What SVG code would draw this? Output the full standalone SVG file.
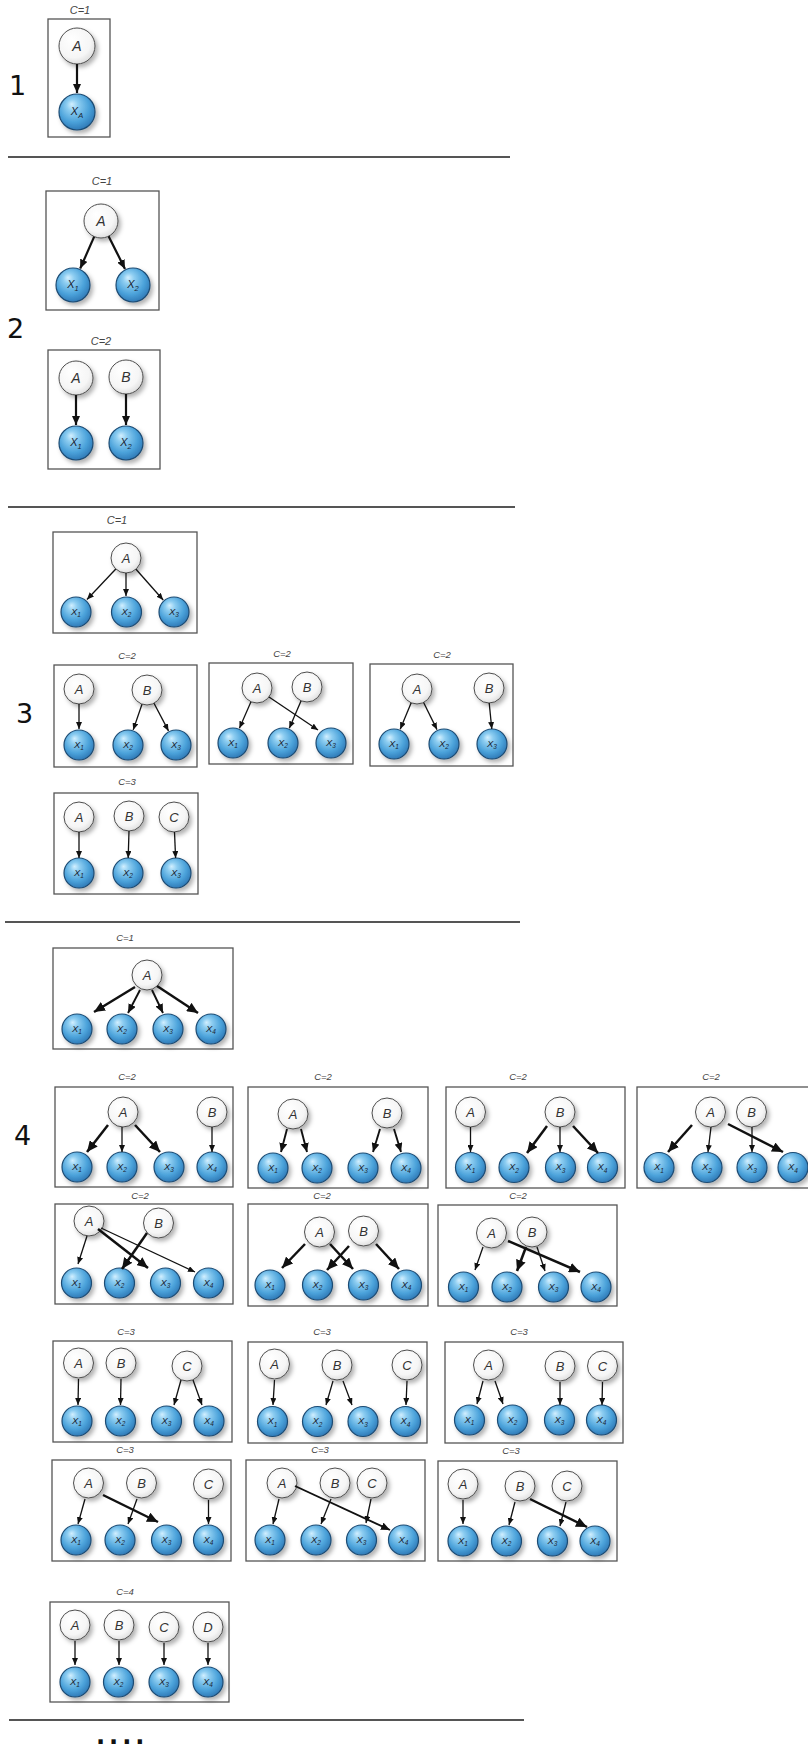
<svg xmlns="http://www.w3.org/2000/svg" width="808" height="1750" viewBox="0 0 808 1750">
<defs>
<radialGradient id="gw" cx="45%" cy="40%" r="65%" fx="35%" fy="30%">
<stop offset="0" stop-color="#ffffff"/><stop offset="0.7" stop-color="#f6f6f6"/><stop offset="1" stop-color="#d9d9d9"/>
</radialGradient>
<radialGradient id="gb" cx="45%" cy="40%" r="65%" fx="35%" fy="28%">
<stop offset="0" stop-color="#d2efff"/><stop offset="0.25" stop-color="#8dcdf1"/><stop offset="0.65" stop-color="#4ba2da"/><stop offset="1" stop-color="#2a72b0"/>
</radialGradient>
<filter id="sh" x="-40%" y="-40%" width="190%" height="190%">
<feDropShadow dx="2.5" dy="3" stdDeviation="2" flood-color="#000" flood-opacity="0.3"/>
</filter>
<marker id="ah" markerUnits="userSpaceOnUse" markerWidth="7" markerHeight="6" refX="7" refY="3" orient="auto"><path d="M0,0 L7,3 L0,6 z" fill="#111"/></marker>
<marker id="am" markerUnits="userSpaceOnUse" markerWidth="9" markerHeight="8" refX="9" refY="4" orient="auto"><path d="M0,0 L9,4 L0,8 z" fill="#111"/></marker>
<marker id="ak" markerUnits="userSpaceOnUse" markerWidth="11" markerHeight="10" refX="11" refY="5" orient="auto"><path d="M0,0 L11,5 L0,10 z" fill="#111"/></marker>
</defs>
<style>
.w{fill:url(#gw);stroke:#4d4d4d;stroke-width:1;filter:url(#sh)}
.b{fill:url(#gb);stroke:#1d4b73;stroke-width:1.2;filter:url(#sh)}
.lt{font-family:"Liberation Sans",Arial,sans-serif;font-style:italic;font-size:13px;fill:#333;text-anchor:middle}
.lt2{font-family:"Liberation Sans",Arial,sans-serif;font-style:italic;font-size:14px;fill:#333;text-anchor:middle}
.xt{font-family:"Liberation Sans",Arial,sans-serif;font-style:italic;font-size:9.5px;fill:#1a2533;text-anchor:middle}
.xt2{font-family:"Liberation Sans",Arial,sans-serif;font-style:italic;font-size:11px;fill:#1a2533;text-anchor:middle}
.sub{font-size:6.5px}
.sub2{font-size:7.5px}
.cl{font-family:"Liberation Sans",Arial,sans-serif;font-style:italic;font-size:9.5px;fill:#444;text-anchor:middle}
.cl2{font-family:"Liberation Sans",Arial,sans-serif;font-style:italic;font-size:11px;fill:#444;text-anchor:middle}
.box{fill:#fff;stroke:#555;stroke-width:1.3}
.sep{stroke:#555;stroke-width:2}
.num{font-family:"DejaVu Sans",Verdana,sans-serif;font-size:27px;fill:#111}
.dots{font-family:"DejaVu Sans",Verdana,sans-serif;font-weight:bold;font-size:24px;letter-spacing:4px;fill:#111}
.t{stroke:#111;stroke-width:1.3;fill:none;marker-end:url(#ah)}
.m{stroke:#111;stroke-width:1.9;fill:none;marker-end:url(#am)}
.m2{stroke:#111;stroke-width:2.2;fill:none;marker-end:url(#am)}
.k{stroke:#111;stroke-width:2.5;fill:none;marker-end:url(#ak)}
</style>
<rect width="808" height="1750" fill="#fff"/>

<!-- section numbers and separators -->
<g id="labels">
<text class="num" x="9" y="95">1</text>
<text class="num" x="7" y="338">2</text>
<text class="num" x="16" y="723">3</text>
<text class="num" x="14" y="1145">4</text>
<text class="dots" x="96" y="1744">....</text>
</g>
<g id="separators">
<line class="sep" x1="8" y1="157" x2="510" y2="157"/>
<line class="sep" x1="8" y1="507" x2="515" y2="507"/>
<line class="sep" x1="5" y1="922" x2="520" y2="922"/>
<line class="sep" x1="9" y1="1720" x2="524" y2="1720"/>
</g>

<!-- panels -->
<g id="panels">
<text class="cl2" x="80" y="14">C=1</text><rect class="box" x="48" y="19" width="62" height="118"/>
<text class="cl2" x="102" y="184.5">C=1</text><rect class="box" x="46" y="191" width="113" height="119"/>
<text class="cl2" x="101" y="344.5">C=2</text><rect class="box" x="48" y="350" width="112" height="119"/>
<text class="cl2" x="117" y="524">C=1</text><rect class="box" x="53" y="532" width="144" height="101"/>
<text class="cl" x="127" y="658.5">C=2</text><rect class="box" x="54" y="665" width="143" height="102"/>
<text class="cl" x="282" y="657">C=2</text><rect class="box" x="209" y="663" width="144" height="101"/>
<text class="cl" x="442" y="657.5">C=2</text><rect class="box" x="370" y="664" width="143" height="102"/>
<text class="cl" x="127" y="785">C=3</text><rect class="box" x="54" y="793" width="144" height="101"/>
<text class="cl" x="125" y="940.5">C=1</text><rect class="box" x="53" y="948" width="180" height="101"/>
<text class="cl" x="127" y="1079.5">C=2</text><rect class="box" x="55" y="1087" width="178" height="100"/>
<text class="cl" x="323" y="1079.5">C=2</text><rect class="box" x="248" y="1087" width="180" height="101"/>
<text class="cl" x="518" y="1079.5">C=2</text><rect class="box" x="446" y="1087" width="179" height="101"/>
<text class="cl" x="711" y="1079.5">C=2</text><rect class="box" x="637" y="1087" width="175" height="101"/>
<text class="cl" x="140" y="1198.5">C=2</text><rect class="box" x="55" y="1204" width="178" height="100"/>
<text class="cl" x="322" y="1198.5">C=2</text><rect class="box" x="248" y="1204" width="180" height="102"/>
<text class="cl" x="518" y="1199">C=2</text><rect class="box" x="438" y="1205" width="179" height="101"/>
<text class="cl" x="126" y="1334.5">C=3</text><rect class="box" x="53" y="1341" width="179" height="101"/>
<text class="cl" x="322" y="1335">C=3</text><rect class="box" x="248" y="1342" width="179" height="101"/>
<text class="cl" x="519" y="1335">C=3</text><rect class="box" x="445" y="1342" width="178" height="101"/>
<text class="cl" x="125" y="1453">C=3</text><rect class="box" x="52" y="1460" width="179" height="101"/>
<text class="cl" x="320" y="1453">C=3</text><rect class="box" x="246" y="1460" width="179" height="101"/>
<text class="cl" x="511" y="1453.5">C=3</text><rect class="box" x="438" y="1461" width="179" height="100"/>
<text class="cl" x="125" y="1594.5">C=4</text><rect class="box" x="50" y="1602" width="179" height="100"/>
</g>

<!-- nodes: section 1 -->
<g id="p1-A"><circle class="w" cx="77" cy="46" r="18"/><text class="lt2" x="77" y="51">A</text></g>
<g id="p1-XA"><circle class="b" cx="77" cy="112" r="18"/><text class="xt2" x="77" y="115">X<tspan class="sub2" dy="3">A</tspan></text></g>

<!-- section 2 -->
<g id="p2a-A"><circle class="w" cx="101" cy="221" r="17"/><text class="lt2" x="101" y="226">A</text></g>
<g id="p2a-X1"><circle class="b" cx="73" cy="285" r="17"/><text class="xt2" x="73" y="288">X<tspan class="sub2" dy="3">1</tspan></text></g>
<g id="p2a-X2"><circle class="b" cx="133" cy="285" r="17"/><text class="xt2" x="133" y="288">X<tspan class="sub2" dy="3">2</tspan></text></g>
<g id="p2b-A"><circle class="w" cx="76" cy="378" r="17"/><text class="lt2" x="76" y="383">A</text></g>
<g id="p2b-B"><circle class="w" cx="126" cy="377" r="17"/><text class="lt2" x="126" y="382">B</text></g>
<g id="p2b-X1"><circle class="b" cx="76" cy="443" r="17"/><text class="xt2" x="76" y="446">X<tspan class="sub2" dy="3">1</tspan></text></g>
<g id="p2b-X2"><circle class="b" cx="126" cy="443" r="17"/><text class="xt2" x="126" y="446">X<tspan class="sub2" dy="3">2</tspan></text></g>

<!-- section 3 -->
<g id="p3a-A"><circle class="w" cx="126" cy="558" r="15"/><text class="lt" x="126" y="562.5">A</text></g>
<g id="p3a-X1"><circle class="b" cx="76" cy="612" r="15"/><text class="xt" x="76" y="614.5">X<tspan class="sub" dy="2.5">1</tspan></text></g>
<g id="p3a-X2"><circle class="b" cx="126.5" cy="612" r="15"/><text class="xt" x="126.5" y="614.5">X<tspan class="sub" dy="2.5">2</tspan></text></g>
<g id="p3a-X3"><circle class="b" cx="174" cy="612" r="15"/><text class="xt" x="174" y="614.5">X<tspan class="sub" dy="2.5">3</tspan></text></g>

<g id="p3b-A"><circle class="w" cx="79" cy="689" r="15"/><text class="lt" x="79" y="693.5">A</text></g>
<g id="p3b-B"><circle class="w" cx="147" cy="690" r="15"/><text class="lt" x="147" y="694.5">B</text></g>
<g id="p3b-X1"><circle class="b" cx="79" cy="745" r="15"/><text class="xt" x="79" y="747.5">X<tspan class="sub" dy="2.5">1</tspan></text></g>
<g id="p3b-X2"><circle class="b" cx="128" cy="745" r="15"/><text class="xt" x="128" y="747.5">X<tspan class="sub" dy="2.5">2</tspan></text></g>
<g id="p3b-X3"><circle class="b" cx="176" cy="745" r="15"/><text class="xt" x="176" y="747.5">X<tspan class="sub" dy="2.5">3</tspan></text></g>

<g id="p3c-A"><circle class="w" cx="257" cy="688" r="15"/><text class="lt" x="257" y="692.5">A</text></g>
<g id="p3c-B"><circle class="w" cx="307" cy="687" r="15"/><text class="lt" x="307" y="691.5">B</text></g>
<g id="p3c-X1"><circle class="b" cx="233" cy="743" r="15"/><text class="xt" x="233" y="745.5">X<tspan class="sub" dy="2.5">1</tspan></text></g>
<g id="p3c-X2"><circle class="b" cx="283" cy="743" r="15"/><text class="xt" x="283" y="745.5">X<tspan class="sub" dy="2.5">2</tspan></text></g>
<g id="p3c-X3"><circle class="b" cx="331" cy="743" r="15"/><text class="xt" x="331" y="745.5">X<tspan class="sub" dy="2.5">3</tspan></text></g>

<g id="p3d-A"><circle class="w" cx="417" cy="689" r="15"/><text class="lt" x="417" y="693.5">A</text></g>
<g id="p3d-B"><circle class="w" cx="489" cy="688" r="15"/><text class="lt" x="489" y="692.5">B</text></g>
<g id="p3d-X1"><circle class="b" cx="394" cy="744" r="15"/><text class="xt" x="394" y="746.5">X<tspan class="sub" dy="2.5">1</tspan></text></g>
<g id="p3d-X2"><circle class="b" cx="444" cy="744" r="15"/><text class="xt" x="444" y="746.5">X<tspan class="sub" dy="2.5">2</tspan></text></g>
<g id="p3d-X3"><circle class="b" cx="492" cy="744" r="15"/><text class="xt" x="492" y="746.5">X<tspan class="sub" dy="2.5">3</tspan></text></g>

<g id="p3e-A"><circle class="w" cx="79" cy="817" r="15"/><text class="lt" x="79" y="821.5">A</text></g>
<g id="p3e-B"><circle class="w" cx="129" cy="816" r="15"/><text class="lt" x="129" y="820.5">B</text></g>
<g id="p3e-C"><circle class="w" cx="174" cy="817" r="15"/><text class="lt" x="174" y="821.5">C</text></g>
<g id="p3e-X1"><circle class="b" cx="79" cy="873" r="15"/><text class="xt" x="79" y="875.5">X<tspan class="sub" dy="2.5">1</tspan></text></g>
<g id="p3e-X2"><circle class="b" cx="128" cy="873" r="15"/><text class="xt" x="128" y="875.5">X<tspan class="sub" dy="2.5">2</tspan></text></g>
<g id="p3e-X3"><circle class="b" cx="176" cy="873" r="15"/><text class="xt" x="176" y="875.5">X<tspan class="sub" dy="2.5">3</tspan></text></g>

<!-- section 4 -->
<g id="p4a-A"><circle class="w" cx="147" cy="975" r="15"/><text class="lt" x="147" y="979.5">A</text></g>
<g id="p4a-X1"><circle class="b" cx="77" cy="1029" r="15"/><text class="xt" x="77" y="1031.5">X<tspan class="sub" dy="2.5">1</tspan></text></g>
<g id="p4a-X2"><circle class="b" cx="122" cy="1029" r="15"/><text class="xt" x="122" y="1031.5">X<tspan class="sub" dy="2.5">2</tspan></text></g>
<g id="p4a-X3"><circle class="b" cx="168" cy="1029" r="15"/><text class="xt" x="168" y="1031.5">X<tspan class="sub" dy="2.5">3</tspan></text></g>
<g id="p4a-X4"><circle class="b" cx="211" cy="1029" r="15"/><text class="xt" x="211" y="1031.5">X<tspan class="sub" dy="2.5">4</tspan></text></g>

<g id="p4b-A"><circle class="w" cx="123" cy="1112" r="15"/><text class="lt" x="123" y="1116.5">A</text></g>
<g id="p4b-B"><circle class="w" cx="212" cy="1112" r="15"/><text class="lt" x="212" y="1116.5">B</text></g>
<g id="p4b-X1"><circle class="b" cx="77" cy="1167" r="15"/><text class="xt" x="77" y="1169.5">X<tspan class="sub" dy="2.5">1</tspan></text></g>
<g id="p4b-X2"><circle class="b" cx="122" cy="1167" r="15"/><text class="xt" x="122" y="1169.5">X<tspan class="sub" dy="2.5">2</tspan></text></g>
<g id="p4b-X3"><circle class="b" cx="169" cy="1167" r="15"/><text class="xt" x="169" y="1169.5">X<tspan class="sub" dy="2.5">3</tspan></text></g>
<g id="p4b-X4"><circle class="b" cx="212" cy="1167" r="15"/><text class="xt" x="212" y="1169.5">X<tspan class="sub" dy="2.5">4</tspan></text></g>

<g id="p4c-A"><circle class="w" cx="293" cy="1114" r="15"/><text class="lt" x="293" y="1118.5">A</text></g>
<g id="p4c-B"><circle class="w" cx="387" cy="1113" r="15"/><text class="lt" x="387" y="1117.5">B</text></g>
<g id="p4c-X1"><circle class="b" cx="273" cy="1168" r="15"/><text class="xt" x="273" y="1170.5">X<tspan class="sub" dy="2.5">1</tspan></text></g>
<g id="p4c-X2"><circle class="b" cx="317" cy="1168" r="15"/><text class="xt" x="317" y="1170.5">X<tspan class="sub" dy="2.5">2</tspan></text></g>
<g id="p4c-X3"><circle class="b" cx="363" cy="1168" r="15"/><text class="xt" x="363" y="1170.5">X<tspan class="sub" dy="2.5">3</tspan></text></g>
<g id="p4c-X4"><circle class="b" cx="406" cy="1168" r="15"/><text class="xt" x="406" y="1170.5">X<tspan class="sub" dy="2.5">4</tspan></text></g>

<g id="p4d-A"><circle class="w" cx="470.5" cy="1112" r="15"/><text class="lt" x="470.5" y="1116.5">A</text></g>
<g id="p4d-B"><circle class="w" cx="560" cy="1112" r="15"/><text class="lt" x="560" y="1116.5">B</text></g>
<g id="p4d-X1"><circle class="b" cx="470.5" cy="1167.5" r="15"/><text class="xt" x="470.5" y="1170">X<tspan class="sub" dy="2.5">1</tspan></text></g>
<g id="p4d-X2"><circle class="b" cx="514" cy="1167.5" r="15"/><text class="xt" x="514" y="1170">X<tspan class="sub" dy="2.5">2</tspan></text></g>
<g id="p4d-X3"><circle class="b" cx="560.5" cy="1167.5" r="15"/><text class="xt" x="560.5" y="1170">X<tspan class="sub" dy="2.5">3</tspan></text></g>
<g id="p4d-X4"><circle class="b" cx="602.5" cy="1167.5" r="15"/><text class="xt" x="602.5" y="1170">X<tspan class="sub" dy="2.5">4</tspan></text></g>

<g id="p4e-A"><circle class="w" cx="710.5" cy="1112" r="15"/><text class="lt" x="710.5" y="1116.5">A</text></g>
<g id="p4e-B"><circle class="w" cx="751.5" cy="1112" r="15"/><text class="lt" x="751.5" y="1116.5">B</text></g>
<g id="p4e-X1"><circle class="b" cx="659" cy="1167.5" r="15"/><text class="xt" x="659" y="1170">X<tspan class="sub" dy="2.5">1</tspan></text></g>
<g id="p4e-X2"><circle class="b" cx="707" cy="1167.5" r="15"/><text class="xt" x="707" y="1170">X<tspan class="sub" dy="2.5">2</tspan></text></g>
<g id="p4e-X3"><circle class="b" cx="752" cy="1167.5" r="15"/><text class="xt" x="752" y="1170">X<tspan class="sub" dy="2.5">3</tspan></text></g>
<g id="p4e-X4"><circle class="b" cx="793" cy="1167.5" r="15"/><text class="xt" x="793" y="1170">X<tspan class="sub" dy="2.5">4</tspan></text></g>

<g id="p4f-A"><circle class="w" cx="89" cy="1221" r="15"/><text class="lt" x="89" y="1225.5">A</text></g>
<g id="p4f-B"><circle class="w" cx="158.5" cy="1223" r="15"/><text class="lt" x="158.5" y="1227.5">B</text></g>
<g id="p4f-X1"><circle class="b" cx="76.5" cy="1283" r="15"/><text class="xt" x="76.5" y="1285.5">X<tspan class="sub" dy="2.5">1</tspan></text></g>
<g id="p4f-X2"><circle class="b" cx="119.5" cy="1283" r="15"/><text class="xt" x="119.5" y="1285.5">X<tspan class="sub" dy="2.5">2</tspan></text></g>
<g id="p4f-X3"><circle class="b" cx="165.5" cy="1283" r="15"/><text class="xt" x="165.5" y="1285.5">X<tspan class="sub" dy="2.5">3</tspan></text></g>
<g id="p4f-X4"><circle class="b" cx="208.5" cy="1283" r="15"/><text class="xt" x="208.5" y="1285.5">X<tspan class="sub" dy="2.5">4</tspan></text></g>

<g id="p4g-A"><circle class="w" cx="319.5" cy="1232" r="15"/><text class="lt" x="319.5" y="1236.5">A</text></g>
<g id="p4g-B"><circle class="w" cx="363.5" cy="1231" r="15"/><text class="lt" x="363.5" y="1235.5">B</text></g>
<g id="p4g-X1"><circle class="b" cx="270" cy="1285" r="15"/><text class="xt" x="270" y="1287.5">X<tspan class="sub" dy="2.5">1</tspan></text></g>
<g id="p4g-X2"><circle class="b" cx="317.5" cy="1285" r="15"/><text class="xt" x="317.5" y="1287.5">X<tspan class="sub" dy="2.5">2</tspan></text></g>
<g id="p4g-X3"><circle class="b" cx="363.5" cy="1285" r="15"/><text class="xt" x="363.5" y="1287.5">X<tspan class="sub" dy="2.5">3</tspan></text></g>
<g id="p4g-X4"><circle class="b" cx="406.5" cy="1285" r="15"/><text class="xt" x="406.5" y="1287.5">X<tspan class="sub" dy="2.5">4</tspan></text></g>

<g id="p4h-A"><circle class="w" cx="491.5" cy="1233" r="15"/><text class="lt" x="491.5" y="1237.5">A</text></g>
<g id="p4h-B"><circle class="w" cx="532" cy="1232" r="15"/><text class="lt" x="532" y="1236.5">B</text></g>
<g id="p4h-X1"><circle class="b" cx="463.5" cy="1287" r="15"/><text class="xt" x="463.5" y="1289.5">X<tspan class="sub" dy="2.5">1</tspan></text></g>
<g id="p4h-X2"><circle class="b" cx="507" cy="1287" r="15"/><text class="xt" x="507" y="1289.5">X<tspan class="sub" dy="2.5">2</tspan></text></g>
<g id="p4h-X3"><circle class="b" cx="553.5" cy="1287" r="15"/><text class="xt" x="553.5" y="1289.5">X<tspan class="sub" dy="2.5">3</tspan></text></g>
<g id="p4h-X4"><circle class="b" cx="596" cy="1287" r="15"/><text class="xt" x="596" y="1289.5">X<tspan class="sub" dy="2.5">4</tspan></text></g>

<g id="p4i-A"><circle class="w" cx="78.5" cy="1363" r="15"/><text class="lt" x="78.5" y="1367.5">A</text></g>
<g id="p4i-B"><circle class="w" cx="121" cy="1363" r="15"/><text class="lt" x="121" y="1367.5">B</text></g>
<g id="p4i-C"><circle class="w" cx="187" cy="1366" r="15"/><text class="lt" x="187" y="1370.5">C</text></g>
<g id="p4i-X1"><circle class="b" cx="77" cy="1421" r="15"/><text class="xt" x="77" y="1423.5">X<tspan class="sub" dy="2.5">1</tspan></text></g>
<g id="p4i-X2"><circle class="b" cx="120.5" cy="1421" r="15"/><text class="xt" x="120.5" y="1423.5">X<tspan class="sub" dy="2.5">2</tspan></text></g>
<g id="p4i-X3"><circle class="b" cx="166.5" cy="1421" r="15"/><text class="xt" x="166.5" y="1423.5">X<tspan class="sub" dy="2.5">3</tspan></text></g>
<g id="p4i-X4"><circle class="b" cx="209" cy="1421" r="15"/><text class="xt" x="209" y="1423.5">X<tspan class="sub" dy="2.5">4</tspan></text></g>

<g id="p4j-A"><circle class="w" cx="274.5" cy="1364" r="15"/><text class="lt" x="274.5" y="1368.5">A</text></g>
<g id="p4j-B"><circle class="w" cx="337" cy="1365" r="15"/><text class="lt" x="337" y="1369.5">B</text></g>
<g id="p4j-C"><circle class="w" cx="407" cy="1365" r="15"/><text class="lt" x="407" y="1369.5">C</text></g>
<g id="p4j-X1"><circle class="b" cx="272.5" cy="1421.5" r="15"/><text class="xt" x="272.5" y="1424">X<tspan class="sub" dy="2.5">1</tspan></text></g>
<g id="p4j-X2"><circle class="b" cx="317.5" cy="1421.5" r="15"/><text class="xt" x="317.5" y="1424">X<tspan class="sub" dy="2.5">2</tspan></text></g>
<g id="p4j-X3"><circle class="b" cx="363" cy="1421.5" r="15"/><text class="xt" x="363" y="1424">X<tspan class="sub" dy="2.5">3</tspan></text></g>
<g id="p4j-X4"><circle class="b" cx="405.5" cy="1421.5" r="15"/><text class="xt" x="405.5" y="1424">X<tspan class="sub" dy="2.5">4</tspan></text></g>

<g id="p4k-A"><circle class="w" cx="488.5" cy="1365" r="15"/><text class="lt" x="488.5" y="1369.5">A</text></g>
<g id="p4k-B"><circle class="w" cx="560" cy="1366" r="15"/><text class="lt" x="560" y="1370.5">B</text></g>
<g id="p4k-C"><circle class="w" cx="602.5" cy="1366" r="15"/><text class="lt" x="602.5" y="1370.5">C</text></g>
<g id="p4k-X1"><circle class="b" cx="469.5" cy="1420" r="15"/><text class="xt" x="469.5" y="1422.5">X<tspan class="sub" dy="2.5">1</tspan></text></g>
<g id="p4k-X2"><circle class="b" cx="512.5" cy="1420" r="15"/><text class="xt" x="512.5" y="1422.5">X<tspan class="sub" dy="2.5">2</tspan></text></g>
<g id="p4k-X3"><circle class="b" cx="559.5" cy="1420" r="15"/><text class="xt" x="559.5" y="1422.5">X<tspan class="sub" dy="2.5">3</tspan></text></g>
<g id="p4k-X4"><circle class="b" cx="601.5" cy="1420" r="15"/><text class="xt" x="601.5" y="1422.5">X<tspan class="sub" dy="2.5">4</tspan></text></g>

<g id="p4l-A"><circle class="w" cx="88.5" cy="1483" r="15"/><text class="lt" x="88.5" y="1487.5">A</text></g>
<g id="p4l-B"><circle class="w" cx="141.5" cy="1483" r="15"/><text class="lt" x="141.5" y="1487.5">B</text></g>
<g id="p4l-C"><circle class="w" cx="208.5" cy="1484" r="15"/><text class="lt" x="208.5" y="1488.5">C</text></g>
<g id="p4l-X1"><circle class="b" cx="76" cy="1540" r="15"/><text class="xt" x="76" y="1542.5">X<tspan class="sub" dy="2.5">1</tspan></text></g>
<g id="p4l-X2"><circle class="b" cx="120" cy="1540" r="15"/><text class="xt" x="120" y="1542.5">X<tspan class="sub" dy="2.5">2</tspan></text></g>
<g id="p4l-X3"><circle class="b" cx="166.5" cy="1540" r="15"/><text class="xt" x="166.5" y="1542.5">X<tspan class="sub" dy="2.5">3</tspan></text></g>
<g id="p4l-X4"><circle class="b" cx="208.5" cy="1540" r="15"/><text class="xt" x="208.5" y="1542.5">X<tspan class="sub" dy="2.5">4</tspan></text></g>

<g id="p4m-A"><circle class="w" cx="282" cy="1483" r="15"/><text class="lt" x="282" y="1487.5">A</text></g>
<g id="p4m-B"><circle class="w" cx="335" cy="1483" r="15"/><text class="lt" x="335" y="1487.5">B</text></g>
<g id="p4m-C"><circle class="w" cx="372" cy="1483" r="15"/><text class="lt" x="372" y="1487.5">C</text></g>
<g id="p4m-X1"><circle class="b" cx="270" cy="1540" r="15"/><text class="xt" x="270" y="1542.5">X<tspan class="sub" dy="2.5">1</tspan></text></g>
<g id="p4m-X2"><circle class="b" cx="316" cy="1540" r="15"/><text class="xt" x="316" y="1542.5">X<tspan class="sub" dy="2.5">2</tspan></text></g>
<g id="p4m-X3"><circle class="b" cx="361.5" cy="1540" r="15"/><text class="xt" x="361.5" y="1542.5">X<tspan class="sub" dy="2.5">3</tspan></text></g>
<g id="p4m-X4"><circle class="b" cx="403.5" cy="1540" r="15"/><text class="xt" x="403.5" y="1542.5">X<tspan class="sub" dy="2.5">4</tspan></text></g>

<g id="p4n-A"><circle class="w" cx="463" cy="1484" r="15"/><text class="lt" x="463" y="1488.5">A</text></g>
<g id="p4n-B"><circle class="w" cx="520" cy="1486" r="15"/><text class="lt" x="520" y="1490.5">B</text></g>
<g id="p4n-C"><circle class="w" cx="567" cy="1486" r="15"/><text class="lt" x="567" y="1490.5">C</text></g>
<g id="p4n-X1"><circle class="b" cx="463" cy="1541" r="15"/><text class="xt" x="463" y="1543.5">X<tspan class="sub" dy="2.5">1</tspan></text></g>
<g id="p4n-X2"><circle class="b" cx="506.5" cy="1541" r="15"/><text class="xt" x="506.5" y="1543.5">X<tspan class="sub" dy="2.5">2</tspan></text></g>
<g id="p4n-X3"><circle class="b" cx="552.5" cy="1541" r="15"/><text class="xt" x="552.5" y="1543.5">X<tspan class="sub" dy="2.5">3</tspan></text></g>
<g id="p4n-X4"><circle class="b" cx="595" cy="1541" r="15"/><text class="xt" x="595" y="1543.5">X<tspan class="sub" dy="2.5">4</tspan></text></g>

<g id="p4o-A"><circle class="w" cx="75" cy="1625" r="15"/><text class="lt" x="75" y="1629.5">A</text></g>
<g id="p4o-B"><circle class="w" cx="119" cy="1625" r="15"/><text class="lt" x="119" y="1629.5">B</text></g>
<g id="p4o-C"><circle class="w" cx="164" cy="1627" r="15"/><text class="lt" x="164" y="1631.5">C</text></g>
<g id="p4o-D"><circle class="w" cx="208" cy="1627" r="15"/><text class="lt" x="208" y="1631.5">D</text></g>
<g id="p4o-X1"><circle class="b" cx="75" cy="1682" r="15"/><text class="xt" x="75" y="1684.5">X<tspan class="sub" dy="2.5">1</tspan></text></g>
<g id="p4o-X2"><circle class="b" cx="118.5" cy="1682" r="15"/><text class="xt" x="118.5" y="1684.5">X<tspan class="sub" dy="2.5">2</tspan></text></g>
<g id="p4o-X3"><circle class="b" cx="164" cy="1682" r="15"/><text class="xt" x="164" y="1684.5">X<tspan class="sub" dy="2.5">3</tspan></text></g>
<g id="p4o-X4"><circle class="b" cx="208" cy="1682" r="15"/><text class="xt" x="208" y="1684.5">X<tspan class="sub" dy="2.5">4</tspan></text></g>

<!-- connectors -->
<g id="connectors">
<line class="m2" x1="77" y1="64" x2="77" y2="93"/>
<line class="m2" x1="94.2" y1="236.6" x2="80.2" y2="268.5"/>
<line class="m2" x1="108.6" y1="236.2" x2="125" y2="268.9"/>
<line class="m2" x1="76" y1="395" x2="76" y2="425"/>
<line class="m2" x1="126" y1="394" x2="126" y2="425"/>

<line class="t" x1="115.8" y1="569" x2="87" y2="599.5"/>
<line class="t" x1="126" y1="573" x2="126" y2="596"/>
<line class="t" x1="136" y1="569.2" x2="163.2" y2="600"/>
<line class="t" x1="79" y1="704" x2="79" y2="729"/>
<line class="t" x1="142" y1="704.2" x2="133.2" y2="729.9"/>
<line class="t" x1="154" y1="703.3" x2="168.5" y2="730.9"/>
<line class="t" x1="251" y1="701.8" x2="239.4" y2="728.3"/>
<line class="t" x1="269" y1="697" x2="318" y2="730"/>
<line class="t" x1="301.1" y1="700.8" x2="289.3" y2="728.3"/>
<line class="t" x1="411.2" y1="702.8" x2="400.2" y2="729.2"/>
<line class="t" x1="423.6" y1="702.5" x2="437" y2="729.6"/>
<line class="t" x1="489.2" y1="703" x2="491.8" y2="729"/>
<line class="t" x1="79" y1="832" x2="79" y2="858"/>
<line class="t" x1="129" y1="831" x2="128.2" y2="858"/>
<line class="t" x1="174.5" y1="832" x2="175.6" y2="858"/>

<line class="k" x1="135" y1="987" x2="94" y2="1012"/>
<line class="m" x1="140" y1="990" x2="128" y2="1013"/>
<line class="m" x1="152" y1="990" x2="163" y2="1013"/>
<line class="k" x1="157" y1="986" x2="198" y2="1013"/>

<line class="k" x1="108" y1="1125" x2="87" y2="1152"/>
<line class="t" x1="122" y1="1127" x2="122" y2="1152"/>
<line class="k" x1="135" y1="1125" x2="160" y2="1152"/>
<line class="t" x1="212" y1="1127" x2="212" y2="1152"/>

<line class="m" x1="287" y1="1129" x2="281" y2="1152"/>
<line class="m" x1="301" y1="1129" x2="307" y2="1152"/>
<line class="m" x1="380" y1="1129" x2="373" y2="1152"/>
<line class="m" x1="394" y1="1129" x2="401" y2="1152"/>

<line class="t" x1="470.5" y1="1127" x2="470.5" y2="1152"/>
<line class="k" x1="547" y1="1126" x2="527" y2="1153"/>
<line class="t" x1="560" y1="1127" x2="560" y2="1152"/>
<line class="k" x1="573" y1="1126" x2="598" y2="1153"/>

<line class="k" x1="692" y1="1125" x2="668" y2="1152"/>
<line class="t" x1="711" y1="1127" x2="708" y2="1152"/>
<line class="k" x1="728" y1="1124" x2="783" y2="1152"/>
<line class="t" x1="752" y1="1127" x2="752" y2="1152"/>

<line class="t" x1="87" y1="1236" x2="78" y2="1264"/>
<line class="k" x1="98" y1="1229" x2="148" y2="1268"/>
<line class="t" x1="101" y1="1228" x2="195" y2="1272"/>
<line class="k" x1="147" y1="1233" x2="122" y2="1269"/>

<line class="k" x1="305" y1="1244" x2="282" y2="1268"/>
<line class="k" x1="330" y1="1244" x2="353" y2="1269"/>
<line class="k" x1="349" y1="1246" x2="327" y2="1270"/>
<line class="k" x1="376" y1="1244" x2="399" y2="1269"/>

<line class="t" x1="483" y1="1247" x2="475" y2="1270"/>
<line class="k" x1="526" y1="1247" x2="517" y2="1271"/>
<line class="t" x1="537" y1="1247" x2="545" y2="1271"/>
<line class="k" x1="508" y1="1241" x2="580" y2="1272"/>

<line class="t" x1="78.5" y1="1379" x2="78" y2="1405"/>
<line class="t" x1="121" y1="1379" x2="120.5" y2="1405"/>
<line class="t" x1="181" y1="1380" x2="174" y2="1405"/>
<line class="t" x1="193" y1="1380" x2="202" y2="1405"/>

<line class="t" x1="274.5" y1="1380" x2="273" y2="1405"/>
<line class="t" x1="333" y1="1381" x2="326" y2="1405"/>
<line class="t" x1="343" y1="1381" x2="352" y2="1405"/>
<line class="t" x1="407" y1="1381" x2="406" y2="1405"/>

<line class="t" x1="483" y1="1381" x2="477" y2="1404"/>
<line class="t" x1="495" y1="1381" x2="503" y2="1404"/>
<line class="t" x1="560" y1="1382" x2="560" y2="1405"/>
<line class="t" x1="602.5" y1="1382" x2="602" y2="1405"/>

<line class="t" x1="85" y1="1499" x2="78" y2="1524"/>
<line class="k" x1="103" y1="1495" x2="158" y2="1522"/>
<line class="t" x1="137" y1="1499" x2="128" y2="1524"/>
<line class="t" x1="208.5" y1="1500" x2="208.5" y2="1524"/>

<line class="t" x1="279" y1="1499" x2="273" y2="1524"/>
<line class="t" x1="331" y1="1499" x2="321" y2="1524"/>
<line class="t" x1="371" y1="1499" x2="366" y2="1523"/>
<line class="m" x1="295" y1="1486" x2="390" y2="1530"/>

<line class="t" x1="463" y1="1500" x2="463" y2="1524"/>
<line class="t" x1="515" y1="1502" x2="509" y2="1525"/>
<line class="t" x1="566" y1="1502" x2="560" y2="1526"/>
<line class="k" x1="530" y1="1499" x2="587" y2="1527"/>

<line class="t" x1="75" y1="1641" x2="75" y2="1665"/>
<line class="t" x1="119" y1="1641" x2="119" y2="1665"/>
<line class="t" x1="164" y1="1643" x2="164" y2="1665"/>
<line class="t" x1="208" y1="1643" x2="208" y2="1665"/>
</g>
</svg>
